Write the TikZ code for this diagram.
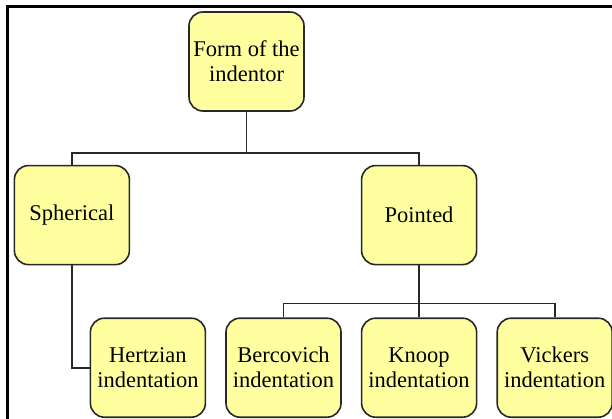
\documentclass[tikz,border=0pt]{standalone}
\usepackage{fontspec}
\setmainfont{Liberation Serif}
\usetikzlibrary{positioning,calc}

\definecolor{boxfill}{RGB}{255,255,160}
\definecolor{boxline}{RGB}{40,40,40}

\begin{document}
\begin{tikzpicture}[
  x=1pt, y=1pt,
  box/.style={rectangle, rounded corners=14pt, draw=boxline, line width=1.6pt, fill=boxfill,
    minimum width=115pt, minimum height=99pt, align=center,
    font=\fontsize{22.5}{25}\selectfont, inner sep=2pt},
  link/.style={draw=boxline, line width=1.6pt}
]
\useasboundingbox (0,0) rectangle (612,-419);

% Frame
\draw[line width=2.2pt] (7.5,-419) |- (612,-6.5);

% Nodes
\node[box] (form) at (246.5,-61.5) {Form of the\\indentor};
\node[box, below left=53pt and 58pt of form] (spher) {Spherical};
\node[box, below right=53pt and 56pt of form] (point) {Pointed};
\node[box, below=52pt of point] (knoop) {Knoop\\indentation};
\node[box, left=19pt of knoop] (berc) {Bercovich\\indentation};
\node[box, right=19pt of knoop] (vick) {Vickers\\indentation};
\node[box, left=19pt of berc] (hertz) {Hertzian\\indentation};

% Junctions
\coordinate (j1) at ($(form.south)+(0,-41)$);
\coordinate (j2) at ($(point.south)+(0,-38)$);

% Connectors
\draw[link] (form.south) -- (j1);
\draw[link] (j1) -| (spher.north);
\draw[link] (j1) -| (point.north);
\draw[link] (spher.south) |- (hertz.west);
\draw[link] (point.south) -- (j2);
\draw[link] (j2) -| (berc.north);
\draw[link] (j2) -| (knoop.north);
\draw[link] (j2) -| (vick.north);

\end{tikzpicture}
\end{document}
